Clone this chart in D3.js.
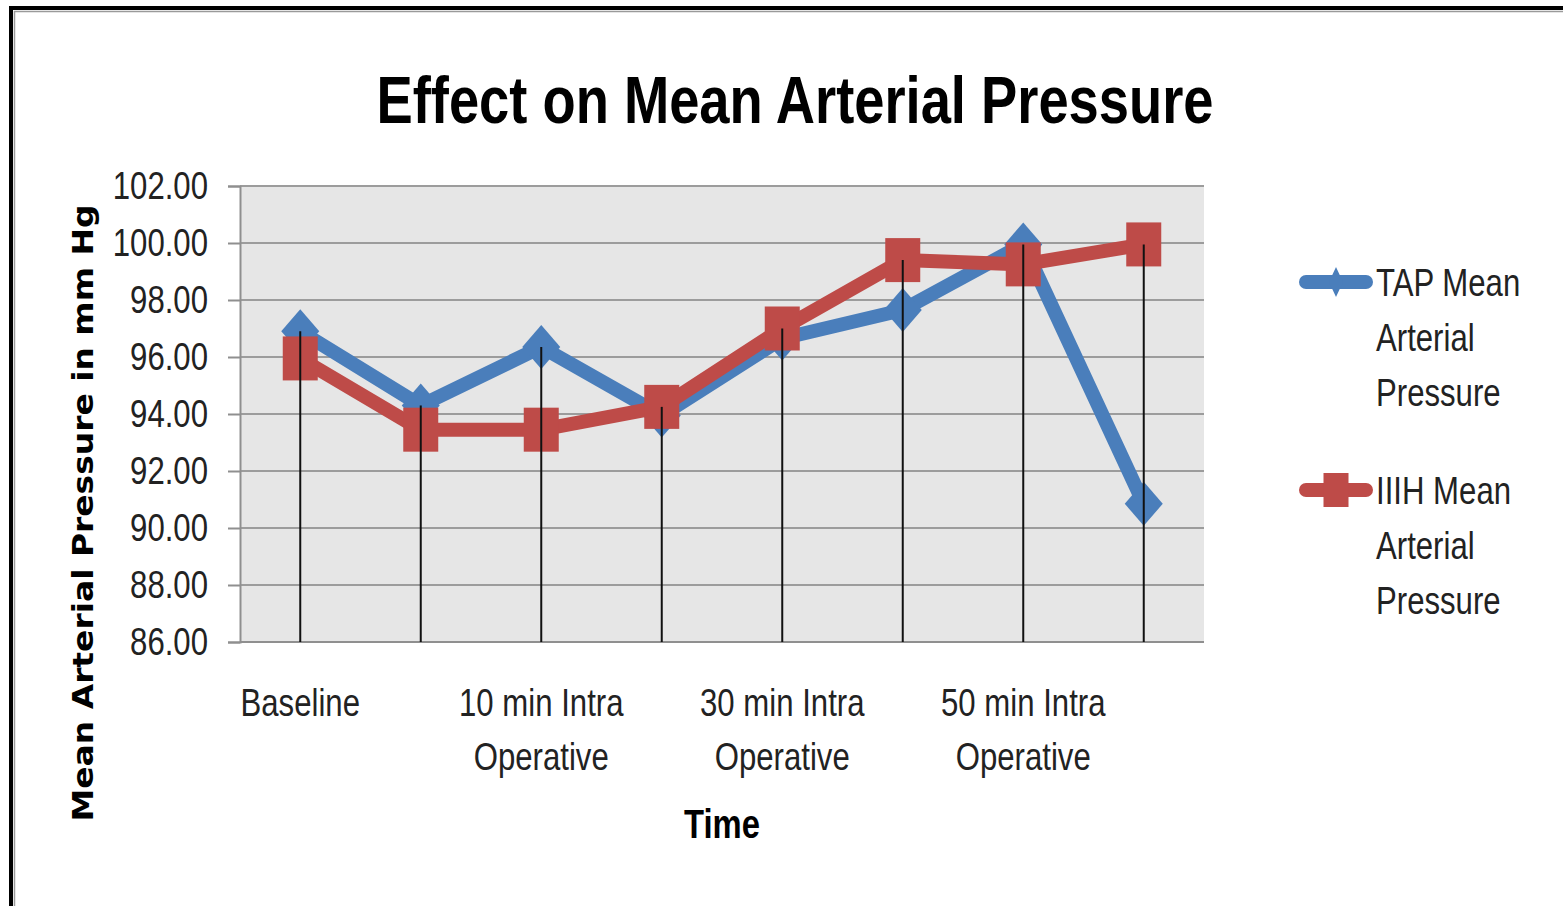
<!DOCTYPE html>
<html>
<head>
<meta charset="utf-8">
<script src="https://cdn.jsdelivr.net/npm/d3@7"></script>
<style>
  body { margin: 0; background: #fff; }
  svg { display: block; }
</style>
</head>
<body>
<svg id="chart"></svg>
<script>
// time points (only every other one gets a printed label, as in the original)
const categories = [
    "Baseline",
    "5 min Intra Operative",
    "10 min Intra Operative",
    "20 min Intra Operative",
    "30 min Intra Operative",
    "40 min Intra Operative",
    "50 min Intra Operative",
    "60 min Intra Operative"
];
const tapValues = [96.9, 94.3, 96.35, 93.95, 96.65, 97.65, 99.95, 90.85];
const iiihValues = [95.95, 93.45, 93.45, 94.25, 97.0, 99.4, 99.25, 99.95];
const seriesNames = ["TAP Mean Arterial Pressure", "IIIH Mean Arterial Pressure"];
const yTicks = [86, 88, 90, 92, 94, 96, 98, 100, 102];

const width = 1563;
const height = 906;
const margin = { top: 186, right: 359, bottom: 264, left: 240 };
const sans = "'Liberation Sans', Arial, sans-serif";
const squeeze = 0.82; // fake a narrow face by squeezing Liberation Sans

const svg = d3.select("#chart")
    .attr("width", width)
    .attr("height", height);

// outer frame
svg.append("rect")
    .attr("x", 11).attr("y", 8)
    .attr("width", width + 40).attr("height", height + 40)
    .attr("fill", "#fff")
    .attr("stroke", "#000")
    .attr("stroke-width", 4);
svg.append("rect")
    .attr("x", 14.5).attr("y", 11.5)
    .attr("width", width + 40).attr("height", height + 40)
    .attr("fill", "none")
    .attr("stroke", "#9a9a9a")
    .attr("stroke-width", 1.5);

const x = d3.scaleBand()
    .domain(categories)
    .range([margin.left, width - margin.right])
    .padding(0);

const y = d3.scaleLinear()
    .domain([86, 102])
    .range([height - margin.bottom, margin.top]);

const cx = d => x(d) + x.bandwidth() / 2;

function narrowText(parent, px, py, lines, size, opts = {}) {
    const t = parent.append("text")
        .attr("transform", `translate(${px},${py}) scale(${squeeze},1)`)
        .attr("text-anchor", opts.anchor || "start")
        .attr("font-family", sans)
        .attr("font-weight", opts.weight || "normal")
        .attr("font-size", size + "px")
        .attr("fill", opts.fill || "#222");
    t.selectAll("tspan")
        .data(lines)
        .join("tspan")
        .attr("x", 0)
        .attr("y", (l, i) => i * (opts.lineHeight || 0))
        .text(l => l);
    return t;
}

// plot background
svg.append("rect")
    .attr("x", margin.left)
    .attr("y", margin.top)
    .attr("width", width - margin.right - margin.left)
    .attr("height", height - margin.bottom - margin.top)
    .attr("fill", "#e6e6e6");

// gridlines
svg.append("g")
    .selectAll("line")
    .data(yTicks)
    .join("line")
    .attr("x1", margin.left)
    .attr("x2", width - margin.right)
    .attr("y1", d => y(d))
    .attr("y2", d => y(d))
    .attr("stroke", "#9c9c9c")
    .attr("stroke-width", 2);

// y axis
const yAxis = svg.append("g")
    .attr("transform", `translate(${margin.left},0)`)
    .call(d3.axisLeft(y).tickValues(yTicks).tickFormat(d3.format(".2f")).tickSize(12).tickPadding(20));
yAxis.select(".domain").attr("stroke", "#8f8f8f").attr("stroke-width", 2);
yAxis.selectAll(".tick line").attr("stroke", "#8f8f8f").attr("stroke-width", 2);
yAxis.selectAll("text")
    .attr("font-family", sans)
    .attr("font-size", "38px")
    .attr("fill", "#222")
    .attr("transform", `scale(${squeeze},1)`)
    .attr("x", -32 / squeeze);

// x axis line
svg.append("line")
    .attr("x1", margin.left)
    .attr("x2", width - margin.right)
    .attr("y1", y(86))
    .attr("y2", y(86))
    .attr("stroke", "#8f8f8f")
    .attr("stroke-width", 2);

// x labels, every other category
const xLabelGroup = svg.append("g");
categories.forEach((d, i) => {
    if (i % 2 !== 0) return;
    const words = d.split(" ");
    const lines = words.length > 1 ? [words.slice(0, -1).join(" "), words[words.length - 1]] : [d];
    narrowText(xLabelGroup, cx(d), 716, lines, 38, { anchor: "middle", lineHeight: 54 });
});

const series = [
    { name: seriesNames[0], values: tapValues, color: "#4a7ebb", marker: "diamond" },
    { name: seriesNames[1], values: iiihValues, color: "#be4b48", marker: "square" }
];

function drawMarker(g, type, color, px, py, w, h) {
    if (type === "diamond") {
        g.append("path")
            .attr("d", `M${px},${py - h / 2}L${px + w / 2},${py}L${px},${py + h / 2}L${px - w / 2},${py}Z`)
            .attr("fill", color);
    } else {
        g.append("rect")
            .attr("x", px - w / 2)
            .attr("y", py - h / 2)
            .attr("width", w)
            .attr("height", h)
            .attr("fill", color);
    }
}

const line = d3.line()
    .x((d, i) => cx(categories[i]))
    .y(d => y(d));

series.forEach(s => {
    const g = svg.append("g");
    g.append("path")
        .datum(s.values)
        .attr("d", line)
        .attr("fill", "none")
        .attr("stroke", s.color)
        .attr("stroke-width", 14)
        .attr("stroke-linejoin", "round");
    s.values.forEach((v, i) => {
        if (s.marker === "diamond") drawMarker(g, "diamond", s.color, cx(categories[i]), y(v), 38, 44);
        else drawMarker(g, "square", s.color, cx(categories[i]), y(v), 35, 44);
    });
});

// drop lines from the highest point of each category to the axis
svg.append("g")
    .selectAll("line")
    .data(categories)
    .join("line")
    .attr("x1", d => cx(d))
    .attr("x2", d => cx(d))
    .attr("y1", (d, i) => y(Math.max(tapValues[i], iiihValues[i])))
    .attr("y2", y(86))
    .attr("stroke", "#111")
    .attr("stroke-width", 2);

// title
svg.append("text")
    .attr("x", 795)
    .attr("y", 123)
    .attr("text-anchor", "middle")
    .attr("font-family", sans)
    .attr("font-weight", "bold")
    .attr("font-size", "66px")
    .attr("textLength", 837)
    .attr("lengthAdjust", "spacingAndGlyphs")
    .attr("fill", "#000")
    .text("Effect on Mean Arterial Pressure");

// axis titles
svg.append("text")
    .attr("transform", "translate(93,513) rotate(-90)")
    .attr("text-anchor", "middle")
    .attr("font-family", "'DejaVu Sans', Verdana, sans-serif")
    .attr("font-weight", "bold")
    .attr("font-size", "29px")
    .attr("textLength", 617)
    .attr("lengthAdjust", "spacingAndGlyphs")
    .attr("fill", "#000")
    .text("Mean Arterial Pressure in mm Hg");

narrowText(svg, 722, 838, ["Time"], 40, { anchor: "middle", weight: "bold", fill: "#000" });

// legend
const legend = svg.append("g");
const legendY = [282, 490];
series.forEach((s, k) => {
    const ly = legendY[k];
    legend.append("line")
        .attr("x1", 1306).attr("x2", 1366)
        .attr("y1", ly).attr("y2", ly)
        .attr("stroke", s.color)
        .attr("stroke-width", 14)
        .attr("stroke-linecap", "round");
    if (s.marker === "diamond") drawMarker(legend, "diamond", s.color, 1336, ly, 14, 30);
    else drawMarker(legend, "square", s.color, 1336, ly, 25, 34);
    const words = s.name.split(" ");
    const lines = [words.slice(0, 2).join(" "), words[2], words[3]];
    narrowText(legend, 1376, ly + 14, lines, 38, { lineHeight: 55 });
});
</script>
</body>
</html>
